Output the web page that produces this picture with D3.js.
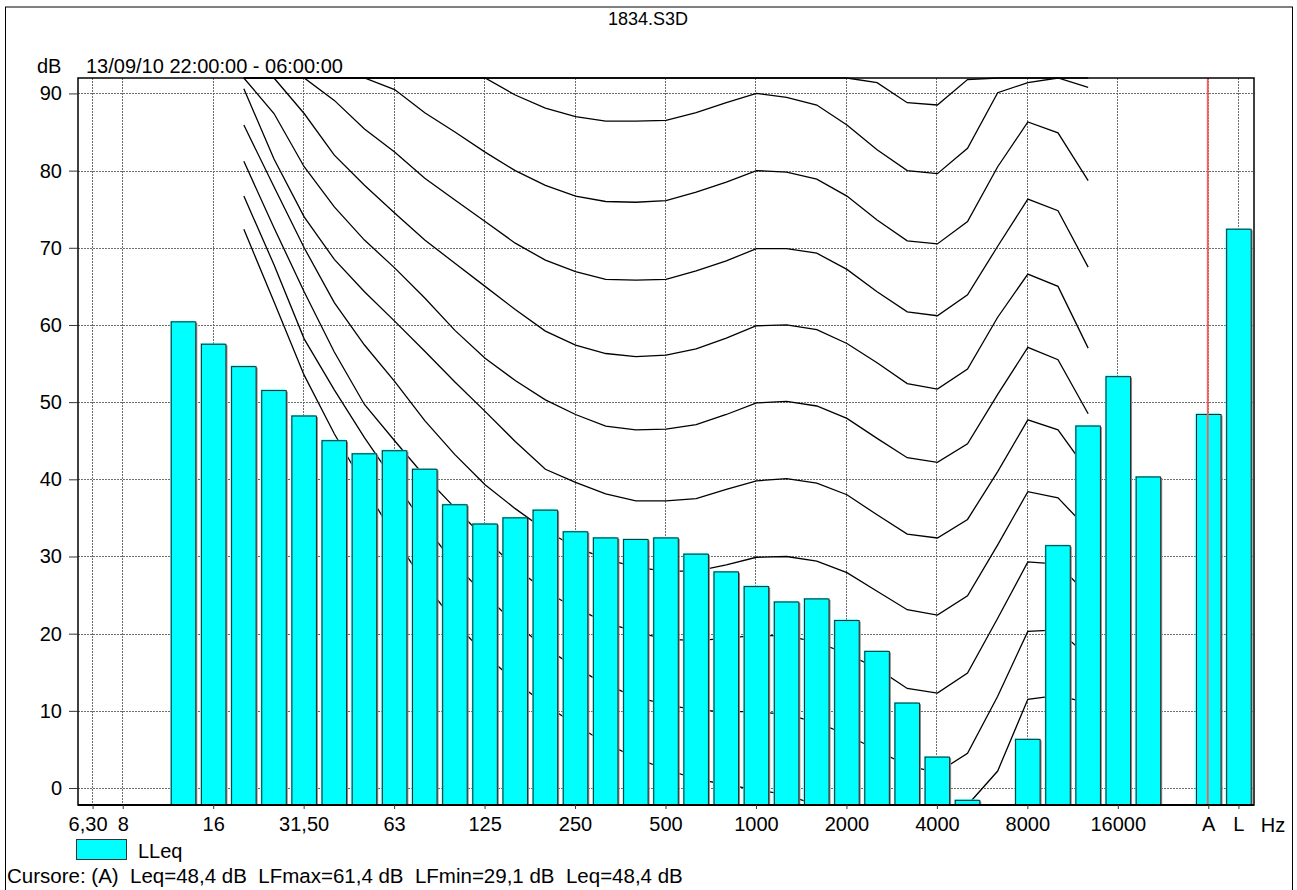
<!DOCTYPE html>
<html>
<head>
<meta charset="utf-8">
<script src="https://cdn.jsdelivr.net/npm/d3@7"></script>
<style>
  body { margin: 0; background: #fff; }
  text { font-family: "Liberation Sans", Arial, sans-serif; }
</style>
</head>
<body>
<div id="chart"></div>
<script>
// 1/3 octave bands on the x axis (index 36 is an empty slot before A and L)
var bandLabels = ["6,3","8","10","12,5","16","20","25","31,5","40","50","63","80","100","125","160",
  "200","250","315","400","500","630","800","1000","1250","1600","2000","2500","3150","4000","5000",
  "6300","8000","10000","12500","16000","20000","gap","A","L"];

// labelled ticks on the x axis
var xTickBands  = ["6,3","8","16","31,5","63","125","250","500","1000","2000","4000","8000","16000","A","L"];
var xTickLabels = ["6,30","8","16","31,50","63","125","250","500","1000","2000","4000","8000","16000","A","L"];
var yTicks = [0, 10, 20, 30, 40, 50, 60, 70, 80, 90];

// LLeq spectrum
var barBands = ["12,5","16","20","25","31,5","40","50","63","80","100","125","160","200","250","315",
  "400","500","630","800","1000","1250","1600","2000","2500","3150","4000","5000","6300","8000","10000",
  "12500","16000","20000","A","L"];
var lleq = [60.4, 57.5, 54.6, 51.5, 48.2, 45.0, 43.3, 43.7, 41.3, 36.7, 34.2, 35.0, 36.0, 33.2, 32.4,
  32.2, 32.4, 30.3, 28.0, 26.1, 24.1, 24.5, 21.7, 17.7, 11.0, 4.0, -1.6, null, 6.3, 31.4,
  46.9, 53.3, 40.3, 48.4, 72.4];

// isophonic curves, 20 Hz .. 12500 Hz
var curveBands = ["20","25","31,5","40","50","63","80","100","125","160","200","250","315","400","500",
  "630","800","1000","1250","1600","2000","2500","3150","4000","5000","6300","8000","10000","12500"];
var phon0   = [72.4, 63.0, 53.5, 45.9, 39.1, 32.5, 26.5, 21.5, 17.3, 13.8, 10.8, 8.2, 5.8, 3.9, 2.4, 1.2, 0.4, -0.2, -0.9, -2.4, -4.2, -6.2, -7.6, -8.3, -6.0, 2.2, 11.5, 12.0, 11.0];
var phon10  = [76.7, 67.8, 58.2, 51.6, 45.4, 39.7, 34.0, 29.0, 25.0, 21.3, 18.2, 15.6, 13.4, 11.8, 10.8, 10.1, 9.9, 9.9, 9.5, 8.5, 6.9, 4.9, 2.9, 2.0, 4.5, 11.9, 20.3, 20.5, 17.0];
var phon20  = [81.2, 72.6, 64.3, 56.5, 49.7, 45.0, 40.4, 36.3, 32.3, 28.6, 25.5, 23.3, 21.5, 20.2, 19.3, 19.1, 19.4, 19.8, 19.7, 18.9, 17.4, 15.5, 12.9, 12.3, 14.9, 22.0, 29.3, 29.0, 25.0];
var phon30  = [85.9, 77.9, 70.0, 62.9, 57.4, 52.7, 47.6, 43.2, 39.3, 36.2, 33.4, 31.2, 29.7, 28.6, 28.1, 28.1, 28.9, 29.9, 30.0, 29.4, 27.9, 25.5, 23.1, 22.4, 24.9, 31.5, 38.4, 37.6, 33.5];
var phon40  = [90.6, 81.5, 74.0, 68.5, 64.3, 60.5, 56.6, 52.6, 48.8, 44.9, 41.3, 39.6, 38.1, 37.2, 37.2, 37.5, 38.7, 39.8, 40.1, 39.5, 38.0, 35.4, 32.9, 32.4, 34.8, 41.0, 47.7, 46.4, 41.0];
var phon50  = [96.0, 87.4, 80.5, 75.3, 71.0, 67.4, 63.5, 59.3, 55.7, 52.8, 50.3, 48.4, 46.9, 46.4, 46.5, 47.1, 48.4, 49.9, 50.1, 49.5, 47.9, 45.3, 42.8, 42.2, 44.6, 51.0, 57.1, 55.5, 48.5];
var phon60  = [101.0, 97.0, 87.4, 82.0, 78.1, 74.5, 71.0, 68.0, 65.0, 62.0, 59.2, 57.4, 56.3, 55.9, 56.1, 56.9, 58.3, 59.9, 60.0, 59.4, 57.6, 55.1, 52.4, 51.7, 54.3, 61.0, 66.6, 65.0, 57.0];
var phon70  = [106.0, 101.0, 95.5, 89.1, 85.4, 82.4, 79.0, 76.2, 73.4, 70.6, 68.4, 66.9, 65.9, 65.8, 65.9, 67.0, 68.3, 69.9, 69.9, 69.3, 67.2, 64.3, 61.7, 61.2, 63.9, 70.2, 76.3, 74.8, 67.5];
var phon80  = [111.0, 106.0, 101.0, 97.0, 93.5, 90.5, 87.5, 85.0, 82.4, 80.0, 78.1, 76.7, 76.0, 75.9, 76.1, 77.2, 78.5, 80.0, 79.8, 78.9, 76.7, 73.6, 70.9, 70.5, 73.4, 80.5, 86.3, 84.9, 78.7];
var phon90  = [120, 115, 110, 106, 102, 99, 97, 94.5, 92.0, 89.8, 88.1, 87.0, 86.4, 86.4, 86.5, 87.5, 88.8, 90.0, 89.5, 88.5, 85.9, 82.7, 80.0, 79.6, 82.9, 90.1, 91.4, 93.5, 90.8];
var phon100 = [125, 122, 118, 114, 111, 108, 106, 104, 102, 100, 98.5, 97.2, 96.5, 96.4, 96.5, 97.5, 98.8, 100, 99.5, 97.5, 93.0, 91.4, 88.8, 88.5, 91.8, 99.0, 105, 104, 100];
var curves = [phon0, phon10, phon20, phon30, phon40, phon50, phon60, phon70, phon80, phon90, phon100];

var cursorBand = "A";

// Set the dimensions
var W = 1297, H = 890;
var margin = {top: 78, right: 43, bottom: 85, left: 78},
    width = W - margin.left - margin.right,
    height = H - margin.top - margin.bottom;

var x = d3.scaleBand()
    .domain(bandLabels)
    .range([0, width]);
var y = d3.scaleLinear()
    .domain([-2.2, 92])
    .range([height, 0])
    .clamp(true);

var cx = function(b) { return x(b) + x.bandwidth() / 2; };

var svg = d3.select("#chart")
  .append("svg")
    .attr("width", W)
    .attr("height", H);

// window frame
svg.append("line").attr("x1", 5).attr("x2", 1293).attr("y1", 7).attr("y2", 7)
    .attr("stroke", "#808080").attr("stroke-width", 2);
svg.append("line").attr("x1", 5.5).attr("x2", 5.5).attr("y1", 7).attr("y2", H)
    .attr("stroke", "#000");
svg.append("line").attr("x1", 1292.5).attr("x2", 1292.5).attr("y1", 7).attr("y2", H)
    .attr("stroke", "#000");

svg.append("text")
    .attr("x", 648).attr("y", 25)
    .attr("text-anchor", "middle")
    .attr("font-size", 18)
    .text("1834.S3D");

svg.append("text").attr("x", 37).attr("y", 73).attr("font-size", 20).text("dB");
svg.append("text").attr("x", 86).attr("y", 73).attr("font-size", 20).text("13/09/10 22:00:00 - 06:00:00");

var g = svg.append("g")
    .attr("transform", "translate(" + margin.left + "," + margin.top + ")");

// grid
g.selectAll(".hgrid")
    .data(yTicks)
  .enter().append("line")
    .attr("class", "hgrid")
    .attr("x1", 0).attr("x2", width)
    .attr("y1", function(d) { return Math.round(y(d)) + 0.5; })
    .attr("y2", function(d) { return Math.round(y(d)) + 0.5; })
    .attr("stroke", "#6e6e6e")
    .attr("stroke-dasharray", "2,1");

g.selectAll(".vgrid")
    .data(xTickBands)
  .enter().append("line")
    .attr("class", "vgrid")
    .attr("x1", function(d) { return Math.round(cx(d)) - 0.5; })
    .attr("x2", function(d) { return Math.round(cx(d)) - 0.5; })
    .attr("y1", 0).attr("y2", height)
    .attr("stroke", "#6e6e6e")
    .attr("stroke-dasharray", "2,1");

// isophonic curves (behind the bars)
var line = d3.line()
    .x(function(d, i) { return cx(curveBands[i]); })
    .y(function(d) { return y(d); });

g.selectAll(".curve")
    .data(curves)
  .enter().append("path")
    .attr("class", "curve")
    .attr("d", line)
    .attr("fill", "none")
    .attr("stroke", "#000")
    .attr("stroke-width", 1.3);

// bars
var barData = barBands.map(function(b, i) { return {band: b, value: lleq[i]}; })
    .filter(function(d) { return d.value !== null; });
var bw = 24.5;

var bar = g.selectAll(".bar")
    .data(barData)
  .enter().append("g")
    .attr("class", "bar");

bar.append("rect")
    .attr("x", function(d) { return cx(d.band) - bw / 2 + 1.5; })
    .attr("y", function(d) { return y(d.value) + 1; })
    .attr("width", bw)
    .attr("height", function(d) { return height - y(d.value) - 1; })
    .attr("fill", "#8a8a8a");

bar.append("rect")
    .attr("x", function(d) { return cx(d.band) - bw / 2 - 1; })
    .attr("y", function(d) { return y(d.value) - 1; })
    .attr("width", bw)
    .attr("height", function(d) { return height - y(d.value) + 1; })
    .attr("fill", "#00ffff");

bar.append("rect")
    .attr("x", function(d) { return cx(d.band) - bw / 2; })
    .attr("y", function(d) { return y(d.value); })
    .attr("width", bw)
    .attr("height", function(d) { return height - y(d.value); })
    .attr("fill", "#00ffff")
    .attr("stroke", "#262626")
    .attr("stroke-width", 1);

// cursor
g.append("line")
    .attr("x1", cx(cursorBand) - 1).attr("x2", cx(cursorBand) - 1)
    .attr("y1", 0).attr("y2", height)
    .attr("stroke", "#ff5a5a")
    .attr("stroke-width", 1.8);

// frame of the plot
g.append("rect")
    .attr("x", 0).attr("y", 0)
    .attr("width", width).attr("height", height)
    .attr("fill", "none")
    .attr("stroke", "#000")
    .attr("stroke-width", 1.5);
g.append("line")
    .attr("x1", 0).attr("x2", width).attr("y1", height).attr("y2", height)
    .attr("stroke", "#000").attr("stroke-width", 2);

// axes
var xAxis = g.append("g")
    .attr("transform", "translate(0," + height + ")")
    .call(d3.axisBottom(x)
      .tickValues(xTickBands)
      .tickFormat(function(d) { return xTickLabels[xTickBands.indexOf(d)]; })
      .tickSize(4)
      .tickPadding(8));
xAxis.select(".domain").remove();
xAxis.selectAll("text").attr("font-size", 20).attr("font-family", "Liberation Sans, Arial, sans-serif").attr("fill", "#000");
xAxis.selectAll("line").attr("stroke", "#333");
xAxis.selectAll(".tick").filter(function(d) { return d === "6,3"; })
    .select("text").attr("dx", -5);

var yAxis = g.append("g")
    .call(d3.axisLeft(y).tickValues(yTicks).tickSize(9).tickPadding(7));
yAxis.select(".domain").remove();
yAxis.selectAll("text").attr("font-size", 20).attr("font-family", "Liberation Sans, Arial, sans-serif").attr("fill", "#000");
yAxis.selectAll("line").attr("stroke", "#333");

g.append("text")
    .attr("x", width + 19).attr("y", height + 27)
    .attr("text-anchor", "middle")
    .attr("font-size", 20)
    .text("Hz");

// legend
svg.append("rect")
    .attr("x", 76.5).attr("y", 839.5)
    .attr("width", 50).attr("height", 20)
    .attr("fill", "#00ffff")
    .attr("stroke", "#333");
svg.append("text").attr("x", 138).attr("y", 858).attr("font-size", 20).text("LLeq");

svg.append("text")
    .attr("x", 7).attr("y", 883)
    .attr("font-size", 20.5)
    .attr("xml:space", "preserve")
    .style("white-space", "pre")
    .text("Cursore: (A)  Leq=48,4 dB  LFmax=61,4 dB  LFmin=29,1 dB  Leq=48,4 dB");
</script>
</body>
</html>
